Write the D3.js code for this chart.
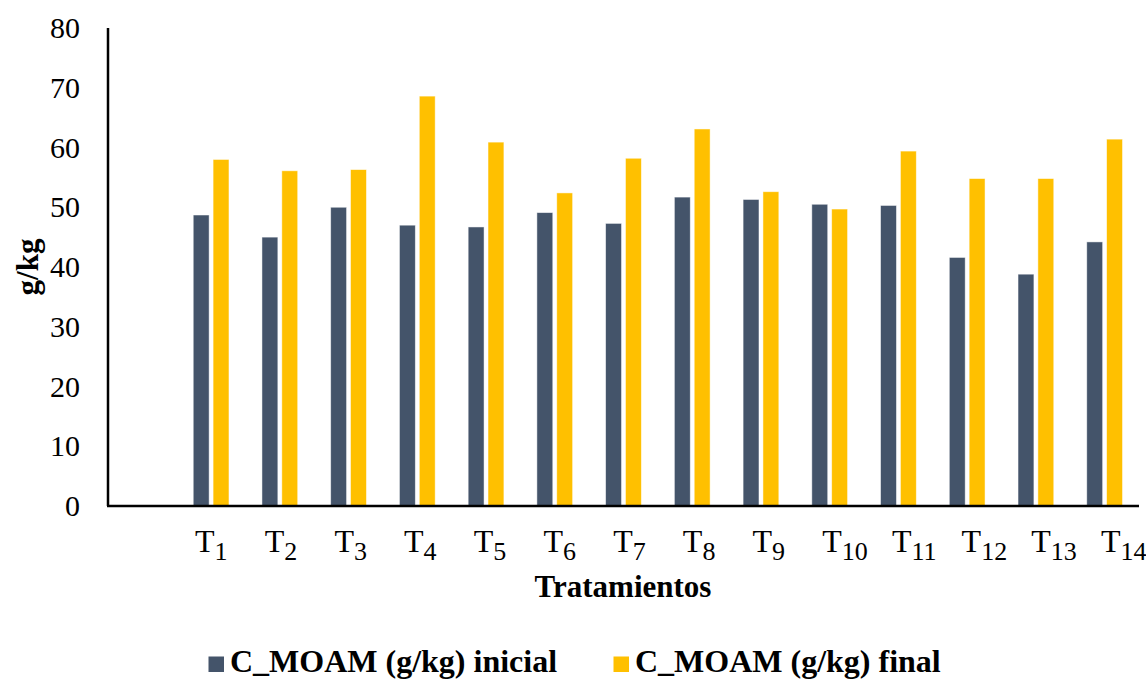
<!DOCTYPE html>
<html>
<head>
<meta charset="utf-8">
<script src="https://cdn.jsdelivr.net/npm/d3@7"></script>
<style>
  html, body { margin: 0; padding: 0; background: #fff; }
  svg { display: block; }
</style>
</head>
<body>
<svg id="chart" width="1146" height="680"></svg>
<script>
// ---- data ----
const categories = ["T1","T2","T3","T4","T5","T6","T7","T8","T9","T10","T11","T12","T13","T14"];
const labelMain = "T";
const labelSubs = ["1","2","3","4","5","6","7","8","9","10","11","12","13","14"];
const inicial = [48.7, 45.0, 50.0, 47.0, 46.7, 49.1, 47.3, 51.7, 51.3, 50.5, 50.3, 41.6, 38.8, 44.2];
const final   = [58.0, 56.1, 56.3, 68.6, 60.9, 52.4, 58.2, 63.1, 52.6, 49.7, 59.4, 54.8, 54.8, 61.4];
const seriesNames = ["C_MOAM (g/kg) inicial", "C_MOAM (g/kg) final"];
const seriesColors = ["#44546A", "#FFC000"];
const yTicks = [0, 10, 20, 30, 40, 50, 60, 70, 80];
const xTitle = "Tratamientos";
const yTitle = "g/kg";

const FONT = "'Liberation Serif', 'DejaVu Serif', serif";

// ---- layout ----
const svg = d3.select("#chart").attr("font-family", FONT);
const plotLeft = 108, plotRight = 1139, plotTop = 28, plotBottom = 506;

const x0 = d3.scaleBand()
  .domain([""].concat(categories))
  .range([plotLeft, plotRight])
  .paddingInner(0.48)
  .paddingOuter(0.24);
const x1 = d3.scaleBand()
  .domain([0, 1])
  .range([0, x0.bandwidth()])
  .paddingInner(0.2);
const y = d3.scaleLinear().domain([0, 80]).range([plotBottom, plotTop]);

// label scale (Excel places labels slightly wider than bars)
const xl = d3.scalePoint().domain(categories).range([195, 1101]);

const rows = categories.map((c, i) => ({ c, vals: [inicial[i], final[i]] }));

// bars
const g = svg.append("g");
rows.forEach(r => {
  r.vals.forEach((v, s) => {
    g.append("rect")
      .attr("x", x0(r.c) + x1(s))
      .attr("y", y(v))
      .attr("width", x1.bandwidth())
      .attr("height", y(0) - y(v))
      .attr("fill", seriesColors[s])
      .attr("stroke", "#ffffff")
      .attr("stroke-opacity", 0.6)
      .attr("stroke-width", 0.8);
  });
});

// axes lines
svg.append("line")
  .attr("x1", plotLeft).attr("x2", plotLeft)
  .attr("y1", plotTop).attr("y2", y(0))
  .attr("stroke", "#000").attr("stroke-width", 2.5);
svg.append("line")
  .attr("x1", plotLeft - 1).attr("x2", plotRight)
  .attr("y1", y(0)).attr("y2", y(0))
  .attr("stroke", "#000").attr("stroke-width", 2.5);

// y tick labels
svg.append("g").selectAll("text").data(yTicks).join("text")
  .attr("font-family", FONT)
  .attr("x", 80)
  .attr("y", d => y(d))
  .attr("dy", "0.34em")
  .attr("text-anchor", "end")
  .attr("font-size", 30)
  .text(d => d);

// x labels with subscripts
const xlab = svg.append("g").selectAll("text").data(categories).join("text")
  .attr("font-family", FONT)
  .attr("x", d => xl(d))
  .attr("y", 551.5)
  .attr("text-anchor", "start")
  .attr("font-size", 32);
xlab.append("tspan").text(labelMain);
xlab.append("tspan")
  .attr("dy", 8.5)
  .attr("font-size", 26)
  .text((d, i) => labelSubs[i]);

// axis titles
svg.append("text")
  .attr("font-family", FONT)
  .attr("x", 623).attr("y", 597)
  .attr("text-anchor", "middle")
  .attr("font-size", 31).attr("font-weight", "bold")
  .text(xTitle);
svg.append("text")
  .attr("font-family", FONT)
  .attr("transform", "translate(38,267) rotate(-90)")
  .attr("text-anchor", "middle")
  .attr("font-size", 31).attr("font-weight", "bold")
  .text(yTitle);

// legend
const legendX = [208.5, 613.5];
const leg = svg.append("g").selectAll("g").data(seriesNames).join("g")
  .attr("transform", (d, i) => `translate(${legendX[i]},0)`);
leg.append("rect")
  .attr("x", 0).attr("y", 656.5)
  .attr("width", 15.5).attr("height", 15.5)
  .attr("fill", (d, i) => seriesColors[i]);
leg.append("text")
  .attr("font-family", FONT)
  .attr("x", 21.5).attr("y", 671.5)
  .attr("font-size", 32).attr("font-weight", "bold")
  .text(d => d);
</script>
</body>
</html>
